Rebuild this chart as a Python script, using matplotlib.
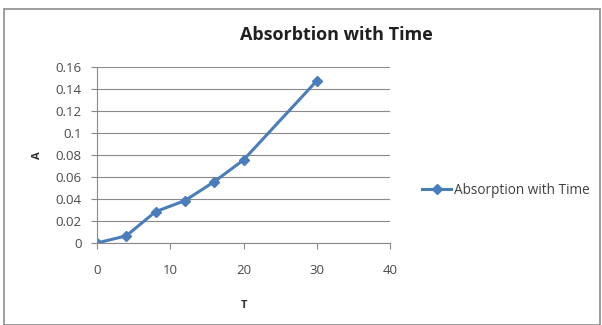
import matplotlib
matplotlib.use('Agg')
import matplotlib.pyplot as plt
from matplotlib.patches import Rectangle

# values
t_values = [0, 4, 8, 12, 16, 20, 30]
a_values = [0.0, 0.0065, 0.0285, 0.0385, 0.0557, 0.0755, 0.1475]
x_ticks = [0, 10, 20, 30, 40]
y_ticks = [0, 0.02, 0.04, 0.06, 0.08, 0.1, 0.12, 0.14, 0.16]
y_tick_labels = ['0', '0.02', '0.04', '0.06', '0.08', '0.1', '0.12', '0.14', '0.16']

plt.rcParams['font.family'] = ['Open Sans', 'DejaVu Sans']

fig = plt.figure(figsize=(6.02, 3.25), dpi=100)
fig.patches.append(Rectangle((0.007, 0.0), 0.99, 0.972, transform=fig.transFigure,
                             fill=False, edgecolor='#8c8c8c', linewidth=1.2))

ax = fig.add_axes([0.161, 0.2523, 0.487, 0.5415])
ax.plot(t_values, a_values, color='#4a7ebb', linewidth=2.2, marker='D',
        markersize=5.5, markerfacecolor='#4a7ebb', markeredgecolor='#4a7ebb',
        label='Absorption with Time')

ax.set_xlim(0, 40)
ax.set_ylim(0, 0.16)
ax.set_xticks(x_ticks)
ax.set_yticks(y_ticks)
ax.set_yticklabels(y_tick_labels)
ax.grid(axis='y', color='#8a8a8a', linewidth=0.8)
ax.set_axisbelow(True)

for side in ['top', 'right']:
    ax.spines[side].set_visible(False)
for side in ['left', 'bottom']:
    ax.spines[side].set_color('#8a8a8a')
    ax.spines[side].set_linewidth(0.8)
ax.tick_params(colors='#8a8a8a', labelcolor='#4a4a4a', labelsize=9.5, length=4, width=0.8)
ax.tick_params(axis='x', pad=11)
ax.tick_params(axis='y', pad=7)

ax.set_xlabel('T', fontsize=8, fontweight='bold', color='#303030', labelpad=17)
ax.set_ylabel('A', fontsize=8, fontweight='bold', color='#303030', labelpad=9)
fig.text(0.559, 0.892, 'Absorbtion with Time', ha='center', va='center',
         fontsize=13, fontweight='bold', color='#202020')

ax.legend(loc='center left', bbox_to_anchor=(1.068, 0.3), frameon=False,
          fontsize=9.8, handlelength=2.1, handletextpad=0.2, labelcolor='#404040')

fig.savefig('out.png', dpi=100)
